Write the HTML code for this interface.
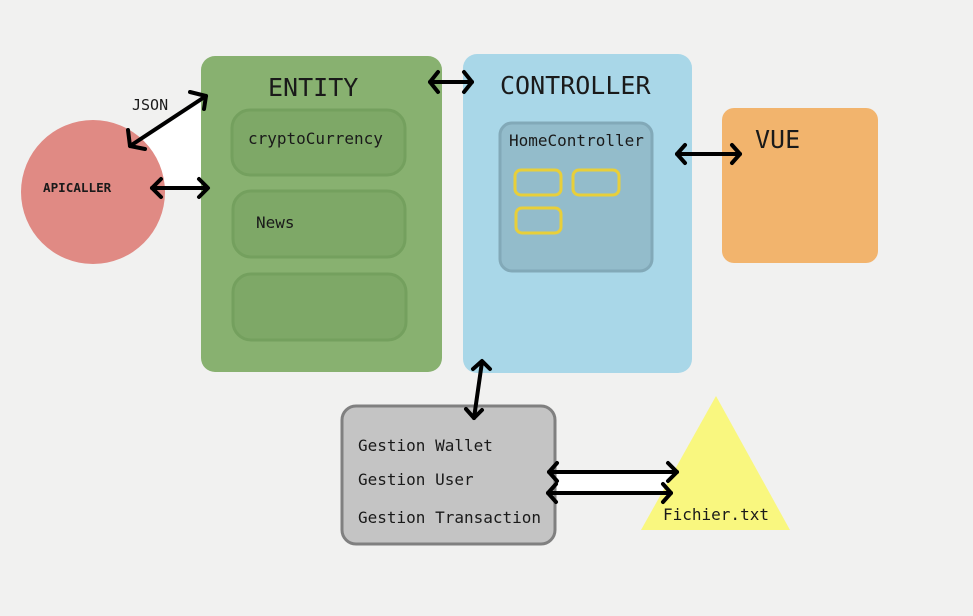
<!DOCTYPE html>
<html><head><style>body{margin:0;background:#f1f1f0}svg{display:block}text{font-family:"DejaVu Sans Mono","Liberation Mono",monospace;fill:#1a1a1a}</style></head>
<body>
<svg width="973" height="616" viewBox="0 0 973 616" xmlns="http://www.w3.org/2000/svg">
<rect width="973" height="616" fill="#f1f1f0"/>
<polygon points="128,147 205,100 205,188 150,188" fill="#fff"/>
<rect x="548" y="471" width="127" height="22" fill="#fff"/>
<circle cx="93" cy="192" r="72" fill="#e08a84"/>
<text x="43" y="192" font-size="12.6" font-weight="bold" fill="#3a1a1a">APICALLER</text>
<rect x="201" y="56" width="241" height="316" rx="14" fill="#88b170"/>
<text x="268" y="96" font-size="25">ENTITY</text>
<g fill="#7ea867" stroke="#74a05e" stroke-width="3">
<rect x="232" y="110" width="173" height="65" rx="18"/>
<rect x="233" y="191" width="172" height="66" rx="18"/>
<rect x="233" y="274" width="173" height="66" rx="18"/>
</g>
<text x="248" y="144" font-size="16">cryptoCurrency</text>
<text x="256" y="228" font-size="16">News</text>
<rect x="463" y="54" width="229" height="319" rx="14" fill="#a9d7e8"/>
<text x="500" y="94" font-size="25">CONTROLLER</text>
<rect x="500" y="123" width="152" height="148" rx="12" fill="#93bccb" stroke="#82a9b8" stroke-width="3"/>
<text x="509" y="146" font-size="16">HomeController</text>
<g fill="none" stroke="#e8cf3a" stroke-width="3">
<rect x="515" y="170" width="46" height="25" rx="6"/>
<rect x="573" y="170" width="46" height="25" rx="6"/>
<rect x="516" y="208" width="45" height="25" rx="6"/>
</g>
<rect x="722" y="108" width="156" height="155" rx="12" fill="#f2b46d"/>
<text x="755" y="148" font-size="25">VUE</text>
<rect x="342" y="406" width="213" height="138" rx="14" fill="#c4c4c4" stroke="#808080" stroke-width="3"/>
<text x="358" y="451" font-size="16">Gestion Wallet</text>
<text x="358" y="485" font-size="16">Gestion User</text>
<text x="358" y="523" font-size="16">Gestion Transaction</text>
<polygon points="716,396 641,530 790,530" fill="#f9f77f"/>
<text x="663" y="520" font-size="16">Fichier.txt</text>
<text x="132" y="110" font-size="15">JSON</text>
<g stroke="#000" stroke-width="4" fill="none" stroke-linecap="round" stroke-linejoin="round">
<line x1="130" y1="146" x2="206" y2="96"/><polyline points="190,92 206,96 204,109"/><polyline points="128,130 130,146 145,149"/>
<line x1="152" y1="188" x2="207" y2="188"/><polyline points="161,179 152,188 161,197"/><polyline points="199,179 208,188 199,197"/>
<line x1="430" y1="82" x2="472" y2="82"/><polyline points="438,72 430,82 438,92"/><polyline points="464,72 472,82 464,92"/>
<line x1="677" y1="154" x2="740" y2="154"/><polyline points="685,145 677,154 685,163"/><polyline points="732,145 740,154 732,163"/>
<line x1="482" y1="362" x2="474" y2="418"/><polyline points="473,369 482,361 490,369"/><polyline points="466,409 474,418 482,410"/>
<line x1="549" y1="472" x2="677" y2="472"/><polyline points="557,463 549,472 557,481"/><polyline points="668,463 677,472 668,481"/>
<line x1="548" y1="493" x2="671" y2="493"/><polyline points="556,484 548,493 556,502"/><polyline points="663,484 671,493 663,502"/>
</g>
</svg>
</body></html>
